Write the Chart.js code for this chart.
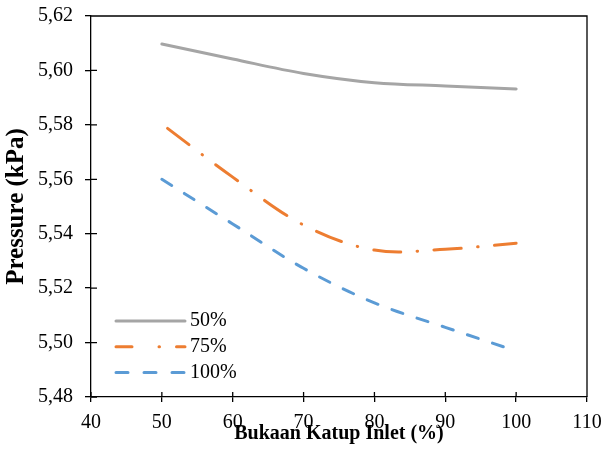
<!DOCTYPE html>
<html><head><meta charset="utf-8">
<script src="https://cdn.jsdelivr.net/npm/chart.js@4.4.1/dist/chart.umd.min.js"></script>
<style>html,body{margin:0;padding:0;background:#fff}#wrap{width:611px;height:462px;position:relative}</style>
</head><body><div id="wrap"><canvas id="c"></canvas></div>
<script>
const xValues = [50, 60, 70, 80, 90, 100];
const series50 = [5.6097, 5.6042, 5.5989, 5.5955, 5.5943, 5.5932];
const series75 = [5.5803, 5.5608, 5.5432, 5.5340, 5.5343, 5.5365];
const series100 = [5.5600, 5.5436, 5.5273, 5.5146, 5.5056, 5.4969];
const seriesLabels = ['50%', '75%', '100%'];
const xTitle = 'Bukaan Katup Inlet (%)';
const yTitle = 'Pressure (kPa)';

const FONT = "'Liberation Serif', 'Times New Roman', serif";
const pts = arr => xValues.map((x, i) => ({x: x, y: arr[i]}));

const legendDash = [[], [16, 27, 0.5, 17], [12, 16]];

const framePlugin = {
  id: 'frame',
  afterDraw(chart) {
    const {ctx, chartArea: a, scales} = chart;
    ctx.save();
    ctx.strokeStyle = '#000';
    ctx.lineWidth = 1.3;
    ctx.setLineDash([]);
    ctx.beginPath();
    ctx.moveTo(a.left, a.top); ctx.lineTo(a.right, a.top); ctx.lineTo(a.right, a.bottom);
    scales.y.ticks.forEach(t => {
      const py = scales.y.getPixelForValue(t.value);
      ctx.moveTo(a.left, py); ctx.lineTo(a.left + 6, py);
    });
    scales.x.ticks.forEach(t => {
      const px = scales.x.getPixelForValue(t.value);
      ctx.moveTo(px, a.bottom); ctx.lineTo(px, a.bottom - 5);
    });
    ctx.stroke();
    const x0 = a.left + 25, x1 = a.left + 94;
    chart.data.datasets.forEach((ds, i) => {
      const y = a.bottom - 76 + i * 25.8;
      ctx.beginPath();
      ctx.strokeStyle = ds.borderColor;
      ctx.lineWidth = ds.borderWidth;
      ctx.lineCap = 'round';
      ctx.setLineDash(legendDash[i]);
      ctx.lineDashOffset = 0;
      ctx.moveTo(x0, y); ctx.lineTo(x1, y);
      ctx.stroke();
      ctx.setLineDash([]);
      ctx.fillStyle = '#000';
      ctx.font = "20px " + FONT;
      ctx.textBaseline = 'middle';
      ctx.textAlign = 'left';
      ctx.fillText(ds.label, a.left + 99, y);
    });
    ctx.restore();
  }
};

new Chart(document.getElementById('c'), {
  type: 'line',
  data: {
    datasets: [
      {label: seriesLabels[0], data: pts(series50), borderColor: '#A5A5A5', borderWidth: 3,
       borderCapStyle: 'round', pointRadius: 0, tension: 0.35, fill: false},
      {label: seriesLabels[1], data: pts(series75), borderColor: '#ED7D31', borderWidth: 3,
       borderCapStyle: 'round', borderDash: [27, 16.5, 0.5, 16.5], borderDashOffset: 53.5,
       pointRadius: 0, tension: 0.35, fill: false},
      {label: seriesLabels[2], data: pts(series100), borderColor: '#5B9BD5', borderWidth: 3,
       borderCapStyle: 'round', borderDash: [11.5, 15], pointRadius: 0, tension: 0.35, fill: false}
    ]
  },
  options: {
    responsive: true,
    maintainAspectRatio: false,
    animation: false,
    devicePixelRatio: 1,
    layout: {padding: {left: 0, right: 24, top: 16, bottom: 0}},
    plugins: {legend: {display: false}, tooltip: {enabled: false}},
    scales: {
      x: {
        type: 'linear', min: 40, max: 110,
        afterFit: s => { s.height = 65; s.paddingLeft = 0; s.paddingRight = 0; },
        ticks: {stepSize: 10, color: '#000', padding: 9, font: {family: FONT, size: 20}},
        grid: {drawOnChartArea: false, drawTicks: true, tickLength: 5, color: '#000', lineWidth: 1.3},
        border: {color: '#000', width: 1.3},
        title: {display: true, text: xTitle, color: '#000',
                font: {family: FONT, size: 20, weight: 'bold', lineHeight: 2.4}}
      },
      y: {
        type: 'linear', min: 5.48, max: 5.62,
        afterFit: s => { s.width = 91; s.paddingTop = 0; s.paddingBottom = 0; },
        ticks: {stepSize: 0.02, color: '#000', padding: 12, font: {family: FONT, size: 20},
                callback: v => v.toFixed(2).replace('.', ',')},
        grid: {drawOnChartArea: false, drawTicks: true, tickLength: 6, color: '#000', lineWidth: 1.3},
        border: {color: '#000', width: 1.3},
        title: {display: true, text: yTitle, color: '#000',
                font: {family: FONT, size: 25, weight: 'bold', lineHeight: 1.04}}
      }
    }
  },
  plugins: [framePlugin]
});
</script>
</body></html>
